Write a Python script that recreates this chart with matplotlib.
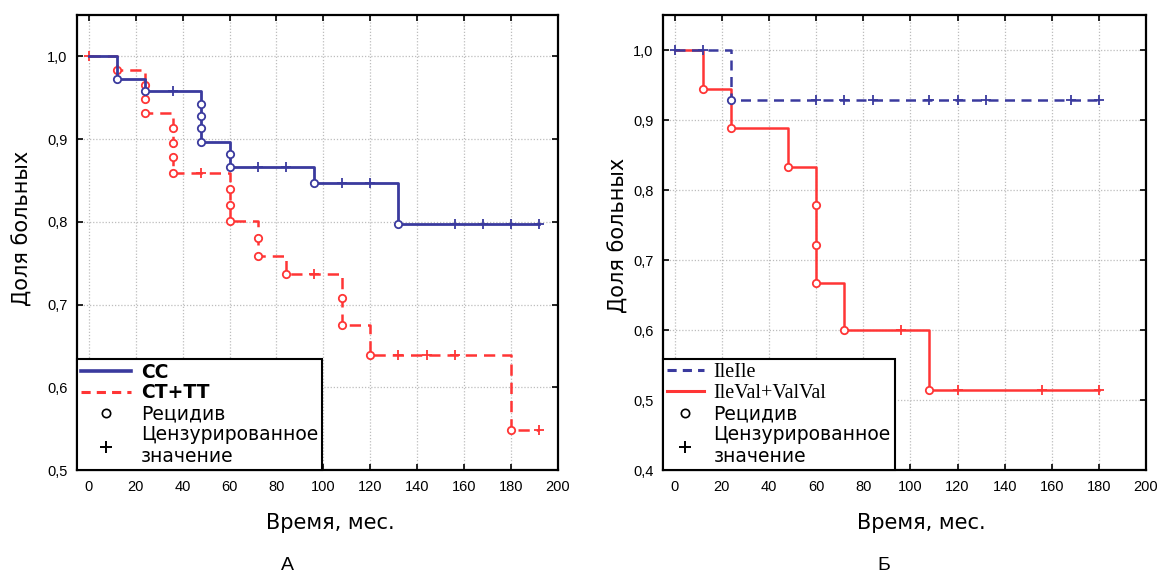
import numpy as np
import matplotlib
matplotlib.use("Agg")
import matplotlib.pyplot as plt
from matplotlib.lines import Line2D
from matplotlib.ticker import FuncFormatter, MultipleLocator

# ---------------- data (panel A) ----------------
cc_event_t = [12, 24, 48, 48, 48, 48, 60, 60, 96, 132]
cc_event_s = [0.973, 0.958, 0.942, 0.928, 0.913, 0.897, 0.882, 0.866, 0.847, 0.797]
cc_cens_t = [36, 72, 84, 108, 120, 156, 168, 180, 192]

ct_event_t = [12, 24, 24, 24, 36, 36, 36, 36, 60, 60, 60, 72, 72, 84, 108, 108, 120, 180]
ct_event_s = [0.983, 0.965, 0.948, 0.932, 0.913, 0.895, 0.878, 0.859, 0.840, 0.820, 0.801,
              0.780, 0.759, 0.737, 0.708, 0.675, 0.639, 0.548]
ct_cens_t = [0, 48, 96, 132, 144, 156, 192]

# ---------------- data (panel B) ----------------
ile_event_t = [24]
ile_event_s = [0.928]
ile_cens_t = [0, 12, 60, 72, 84, 108, 120, 132, 168, 180]

val_event_t = [12, 24, 48, 60, 60, 60, 72, 108]
val_event_s = [0.944, 0.889, 0.833, 0.778, 0.722, 0.667, 0.600, 0.514]
val_cens_t = [96, 120, 156, 180]

labels_a = ["CC", "CT+TT"]
labels_b = ["IleIle", "IleVal+ValVal"]
marker_labels = ["Рецидив", "Цензурированное\nзначение"]
xlabel = "Время, мес."
ylabel = "Доля больных"
x_ticks = [0, 20, 40, 60, 80, 100, 120, 140, 160, 180, 200]

BLUE = "#3a3a9e"
RED = "#ff3535"
SANS = ["DejaVu Sans"]
TICKF = ["Liberation Sans", "DejaVu Sans"]


def surv_at(t, ev_t, ev_s):
    ev_t = np.asarray(ev_t, float)
    ev_s = np.asarray(ev_s, float)
    out = []
    for tt in t:
        idx = np.nonzero(ev_t <= tt)[0]
        out.append(1.0 if len(idx) == 0 else ev_s[idx[-1]])
    return np.array(out)


def draw_km(ax, ev_t, ev_s, cens_t, color, ls, lw, z):
    t_end = max(max(cens_t), max(ev_t))
    xs = np.concatenate([[0], ev_t, [t_end]])
    ys = np.concatenate([[1.0], ev_s, [ev_s[-1]]])
    ax.step(xs, ys, where="post", color=color, ls=ls, lw=lw, zorder=z)
    ax.plot(ev_t, ev_s, ls="none", marker="o", ms=5.3, mfc="white", mec=color,
            mew=1.3, zorder=z + 0.5)
    ax.plot(cens_t, surv_at(cens_t, ev_t, ev_s), ls="none", marker="+", ms=6.5,
            mec=color, mew=1.3, zorder=z + 0.5)


def style_axes(ax, ymin):
    ax.set_xlim(-5, 200)
    ax.set_ylim(ymin, 1.05)
    ax.set_xticks(x_ticks)
    ax.yaxis.set_major_locator(MultipleLocator(0.1))
    ax.yaxis.set_major_formatter(FuncFormatter(lambda v, p: f"{v:.1f}".replace(".", ",")))
    ax.grid(True, color="#bdbdbd", ls=(0, (1, 1.5)), lw=0.9, zorder=0)
    ax.tick_params(direction="in", length=4, width=1.2, top=True, right=True,
                   labelsize=10.5, pad=7)
    for lab in ax.get_xticklabels() + ax.get_yticklabels():
        lab.set_family(TICKF)
    for sp in ax.spines.values():
        sp.set_linewidth(1.6)
        sp.set_color("black")


fig = plt.figure(figsize=(11.6, 5.72), dpi=100)
axA = fig.add_axes([77 / 1160, 1 - 470 / 572, 481 / 1160, 455 / 572])
axB = fig.add_axes([663 / 1160, 1 - 470 / 572, 483 / 1160, 455 / 572])

# ---- Panel A ----
draw_km(axA, ct_event_t, ct_event_s, ct_cens_t, RED, (0, (4.5, 2.8)), 1.8, 3)
draw_km(axA, cc_event_t, cc_event_s, cc_cens_t, BLUE, "-", 2.0, 4)
style_axes(axA, 0.5)

# ---- Panel B ----
draw_km(axB, val_event_t, val_event_s, val_cens_t, RED, "-", 1.8, 3)
draw_km(axB, ile_event_t, ile_event_s, ile_cens_t, BLUE, (0, (4, 2.6)), 1.8, 4)
style_axes(axB, 0.4)

for ax, ylx, yly, xlx in [(axA, -0.0915, 0.53, 0.526), (axB, -0.072, 0.516, 0.534)]:
    ax.set_ylabel(ylabel, fontsize=15, family=SANS)
    ax.yaxis.set_label_coords(ylx, yly)
    ax.set_xlabel(xlabel, fontsize=15, family=SANS)
    ax.xaxis.label.set_va("baseline")
    ax.xaxis.set_label_coords(xlx, -0.129)


def make_legend(ax, line_labels, line_styles, text_fams, bold, hl):
    handles = [Line2D([], [], color=c, ls=s, lw=w) for c, s, w in line_styles]
    handles += [Line2D([], [], ls="none", marker="o", ms=6, mfc="white", mec="black", mew=1.2),
                Line2D([], [], ls="none", marker="+", ms=9, mec="black", mew=1.4)]
    leg = ax.legend(handles, line_labels + marker_labels, loc="lower left",
                    bbox_to_anchor=(0, 0), borderaxespad=0, frameon=True, fancybox=False,
                    edgecolor="black", framealpha=1, prop={"family": SANS, "size": 13.5},
                    handlelength=hl, handletextpad=0.5, labelspacing=0.1, borderpad=0.2)
    leg.get_frame().set_linewidth(1.5)
    leg.set_zorder(10)
    texts = leg.get_texts()
    for i, t in enumerate(texts[:2]):
        t.set_family(text_fams)
        if bold:
            t.set_fontweight("bold")
        else:
            t.set_fontsize(14.5)
    return leg


make_legend(axA, labels_a,
            [(BLUE, "-", 2.6), (RED, (0, (3, 2)), 2.2)], SANS, True, 2.7)
make_legend(axB, labels_b,
            [(BLUE, (0, (3, 2)), 2.2), (RED, "-", 2.2)], ["Liberation Serif", "DejaVu Serif"],
            False, 2.0)

fig.text(287 / 1160, 1 - 570 / 572, "А", fontsize=14, family=["Liberation Sans"],
         ha="center", va="baseline")
fig.text(884 / 1160, 1 - 570 / 572, "Б", fontsize=14, family=["Liberation Sans"],
         ha="center", va="baseline")

fig.savefig("out.png", dpi=100, facecolor="white")
